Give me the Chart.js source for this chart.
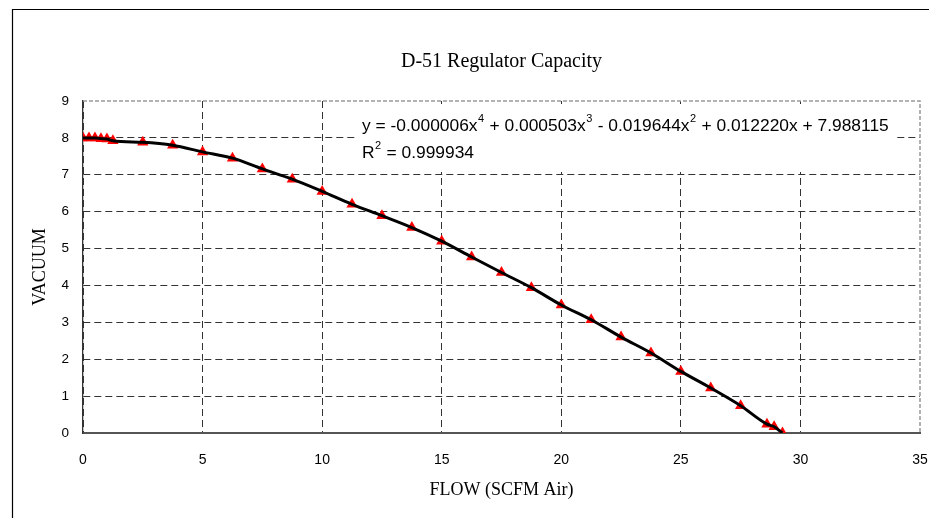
<!DOCTYPE html>
<html>
<head>
<meta charset="utf-8">
<script src="https://cdn.jsdelivr.net/npm/chart.js@4/dist/chart.umd.min.js"></script>
<style>
  html, body { margin: 0; padding: 0; background: #fff; }
</style>
</head>
<body>
<canvas id="grafico" width="929" height="518"></canvas>
<script>
// datos
const flow = [0, 0.25, 0.5, 0.75, 1, 1.25, 2.5, 3.75, 5, 6.25, 7.5, 8.75, 10, 11.25, 12.5, 13.75, 15, 16.25, 17.5, 18.75, 20, 21.25, 22.5, 23.75, 25, 26.25, 27.5, 28.6, 28.9, 29.25];
const vacuum = [8.0, 8.0, 8.0, 7.98, 7.97, 7.92, 7.88, 7.8, 7.62, 7.45, 7.16, 6.88, 6.55, 6.2, 5.89, 5.57, 5.2, 4.77, 4.35, 3.94, 3.47, 3.07, 2.6, 2.17, 1.67, 1.22, 0.74, 0.24, 0.17, 0.0];
const xTicks = [0, 5, 10, 15, 20, 25, 30, 35];
const yTicks = [0, 1, 2, 3, 4, 5, 6, 7, 8, 9];
const titulo = 'D-51 Regulator Capacity';
const ecuacion = [['y = -0.000006x', '4'], [' + 0.000503x', '3'], [' - 0.019644x', '2'], [' + 0.012220x + 7.988115', '']];
const r2 = [['R', '2'], [' = 0.999934', '']];

const puntos = flow.map((x, i) => ({ x, y: vacuum[i] }));

const escribir = (ctx, partes, x, y) => {
  for (const [txt, sup] of partes) {
    ctx.font = '17.4px "Liberation Sans", Arial, sans-serif';
    ctx.fillText(txt, x, y);
    x += ctx.measureText(txt).width;
    if (sup) {
      ctx.font = '11px "Liberation Sans", Arial, sans-serif';
      ctx.fillText(sup, x + 0.5, y - 7);
      x += ctx.measureText(sup).width + 1;
    }
  }
};

const decorado = {
  id: 'decorado',
  beforeDatasetsDraw(chart) {
    const { ctx, chartArea: a } = chart;
    ctx.save();
    // borde superior y derecho del area
    ctx.strokeStyle = '#999';
    ctx.lineWidth = 1.5;
    ctx.setLineDash([4, 2]);
    ctx.beginPath();
    ctx.moveTo(a.left, a.top);
    ctx.lineTo(a.right, a.top);
    ctx.lineTo(a.right, a.bottom);
    ctx.stroke();
    ctx.setLineDash([]);
    // caja de la ecuacion
    ctx.fillStyle = '#fff';
    ctx.fillRect(355, 104, 539, 68);
    ctx.fillStyle = '#000';
    ctx.textBaseline = 'middle';
    ctx.textAlign = 'left';
    escribir(ctx, ecuacion, 362, 126);
    escribir(ctx, r2, 362, 153);
    ctx.restore();
  },
  afterDraw(chart) {
    const { ctx, chartArea: a } = chart;
    ctx.save();
    ctx.strokeStyle = '#000';
    ctx.lineWidth = 1.2;
    ctx.beginPath();
    ctx.moveTo(12.5, 518);
    ctx.lineTo(12.5, 9.5);
    ctx.lineTo(929, 9.5);
    ctx.stroke();
    ctx.fillStyle = '#000';
    ctx.font = '20px "Liberation Serif", "Times New Roman", serif';
    ctx.textAlign = 'center';
    ctx.textBaseline = 'middle';
    ctx.fillText(titulo, (a.left + a.right) / 2, 62);
    ctx.restore();
  }
};

new Chart(document.getElementById('grafico'), {
  type: 'scatter',
  data: {
    datasets: [
      {
        label: 'Poly. (VACUUM)',
        data: puntos,
        showLine: true,
        borderColor: '#000',
        borderWidth: 3,
        pointRadius: 0,
        cubicInterpolationMode: 'monotone',
        fill: false,
      },
      {
        label: 'VACUUM',
        data: puntos,
        showLine: false,
        pointStyle: 'triangle',
        pointRadius: 6.5,
        pointBackgroundColor: '#ff0000',
        pointBorderColor: '#ff0000',
        pointBorderWidth: 0,
      },
    ],
  },
  options: {
    responsive: false,
    animation: false,
    layout: { autoPadding: false, padding: { left: 0, top: 101, right: 9, bottom: 0 } },
    plugins: {
      legend: { display: false },
      tooltip: { enabled: false },
    },
    scales: {
      x: {
        type: 'linear',
        min: 0,
        max: 35,
        afterBuildTicks: (s) => { s.ticks = xTicks.map((v) => ({ value: v })); },
        afterFit: (s) => { s.height = 85; s.paddingLeft = 0; s.paddingRight = 0; },
        ticks: {
          color: '#000',
          padding: 19,
          maxRotation: 0,
          font: { family: '"Liberation Sans", Arial, sans-serif', size: 14 },
        },
        grid: {
          color: (c) => (c.tick && c.tick.value === 35 ? 'rgba(0,0,0,0)' : '#333'),
          lineWidth: 1,
          drawTicks: false,
        },
        border: { color: '#555', width: 2, dash: [7, 4] },
        title: {
          display: true,
          text: 'FLOW (SCFM Air)',
          color: '#000',
          font: { family: '"Liberation Serif", "Times New Roman", serif', size: 18 },
          padding: { top: 0, bottom: 17 },
        },
      },
      y: {
        min: 0,
        max: 9,
        afterBuildTicks: (s) => { s.ticks = yTicks.map((v) => ({ value: v })); },
        afterFit: (s) => { s.width = 83; s.paddingTop = 0; s.paddingBottom = 0; },
        ticks: {
          color: '#000',
          padding: 14,
          font: { family: '"Liberation Sans", Arial, sans-serif', size: 13.5 },
        },
        grid: {
          color: (c) => (c.tick && c.tick.value === 9 ? 'rgba(0,0,0,0)' : '#333'),
          lineWidth: 1,
          drawTicks: false,
        },
        border: { color: '#333', width: 1.3, dash: [7, 4] },
        title: {
          display: true,
          text: 'VACUUM',
          color: '#000',
          font: { family: '"Liberation Serif", "Times New Roman", serif', size: 18 },
          padding: { top: 29, bottom: 0 },
        },
      },
    },
  },
  plugins: [decorado],
});
</script>
</body>
</html>
